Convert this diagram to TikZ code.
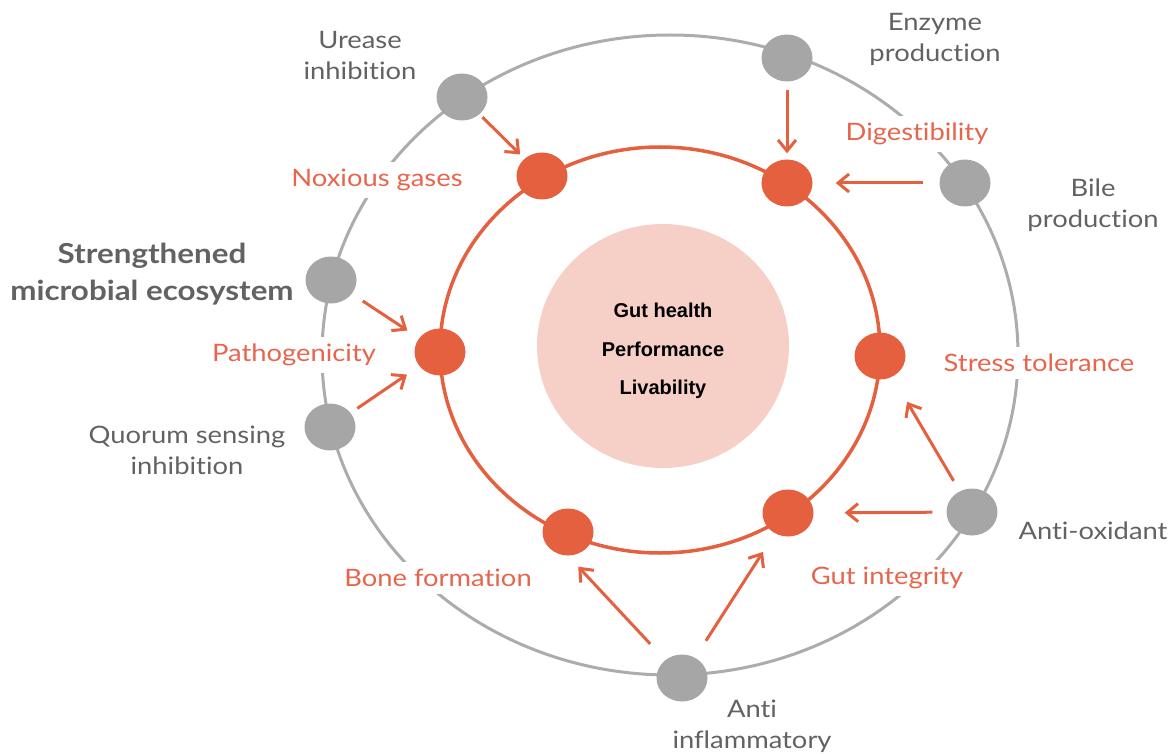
\documentclass[tikz,border=0pt]{standalone}
\usepackage{fontspec}
\setmainfont{Lato}[FakeStretch=1.14,Ligatures=NoCommon]
\newfontfamily\coresans{Liberation Sans}
\usetikzlibrary{arrows.meta,shapes.geometric}

\definecolor{coral}{HTML}{E4603F}
\definecolor{coraltext}{HTML}{E8654D}
\definecolor{blush}{HTML}{F6CFC7}
\definecolor{dotgray}{HTML}{A6A6A6}
\definecolor{ringgray}{HTML}{ACACAC}
\definecolor{labelgray}{HTML}{626262}

\tikzset{
  graydot/.style={ellipse, fill=dotgray, minimum width=51pt, minimum height=47pt, inner sep=0pt},
  reddot/.style={ellipse, fill=coral, minimum width=51pt, minimum height=47pt, inner sep=0pt},
  source/.style={text=labelgray, align=center, font=\fontsize{24}{31}\selectfont},
  effect/.style={text=coraltext, fill=white, inner sep=7pt, font=\fontsize{24}{28}\selectfont},
  feed/.style={draw=coral, line width=3pt, -{Straight Barb[length=11pt,width=18pt]}},
}

\begin{document}
\begin{tikzpicture}[x=1pt,y=-1pt]
\useasboundingbox (0,0) rectangle (1170,754);
\draw[ringgray, line width=3pt] (670,355) ellipse [x radius=348, y radius=320];
\draw[coral, line width=3.5pt] (660,350) ellipse [x radius=220, y radius=203];
\fill[blush] (663,346) ellipse [x radius=126, y radius=122];
\node[font=\coresans\bfseries\fontsize{20}{38.5}\selectfont, align=center] (core) at (663,351) {Gut health\\Performance\\Livability};

% outer ring labels
\node[source] (lurease) at (360,55) {Urease\\inhibition};
\node[source] (lenzyme) at (935,39) {Enzyme\\production};
\node[source] (lbile) at (1093,205) {Bile\\production};
\node[source, font=\bfseries\fontsize{27.5}{37}\selectfont] (lmicro) at (152,274) {Strengthened\\microbial ecosystem};
\node[source] (lquorum) at (187,450) {Quorum sensing\\inhibition};
\node[source] (lantiox) at (1093,531) {Anti-oxidant};
\node[source] (lantiinf) at (752,726) {Anti\\inflammatory};

% inner ring labels
\node[effect] (lnoxious) at (377,180) {Noxious gases};
\node[effect] (ldigest) at (917,134) {Digestibility};
\node[effect] (lpatho) at (294,355) {Pathogenicity};
\node[effect] (lstress) at (1039,363) {Stress tolerance};
\node[effect] (lbone) at (438,578) {Bone formation};
\node[effect] (lgut) at (887,578) {Gut integrity};

% dots
\node[graydot] (urease) at (462,97) {};
\node[graydot] (enzyme) at (787,58) {};
\node[graydot] (bile) at (965,183) {};
\node[graydot] (micro) at (331,280) {};
\node[graydot] (quorum) at (330,427) {};
\node[graydot] (antiox) at (972,512) {};
\node[graydot] (antiinf) at (682,678) {};
\node[reddot] (noxious) at (542,176) {};
\node[reddot] (digest) at (787,183) {};
\node[reddot] (patho) at (440,352) {};
\node[reddot] (stress) at (880,356) {};
\node[reddot] (bone) at (568,532) {};
\node[reddot] (gut) at (788,513) {};

\draw[feed, shorten <=4pt, shorten >=6pt] (urease) -- (noxious);
\draw[feed, shorten <=8pt, shorten >=6pt] (enzyme) -- (digest);
\draw[feed, shorten <=16pt, shorten >=23pt] (bile) -- (digest);
\draw[feed, shorten <=13pt, shorten >=14pt] (micro) -- (patho);
\draw[feed, shorten <=8pt, shorten >=15pt] (quorum) -- (patho);
\draw[feed, shorten <=12pt, shorten >=29pt] (antiox) -- (stress);
\draw[feed, shorten <=14pt, shorten >=31pt] (antiox) -- (gut);
\draw[feed, shorten <=22pt, shorten >=15pt] (antiinf) -- (bone.south);
\draw[feed, shorten <=20pt, shorten >=22pt] (antiinf) -- (gut);
\end{tikzpicture}
\end{document}
